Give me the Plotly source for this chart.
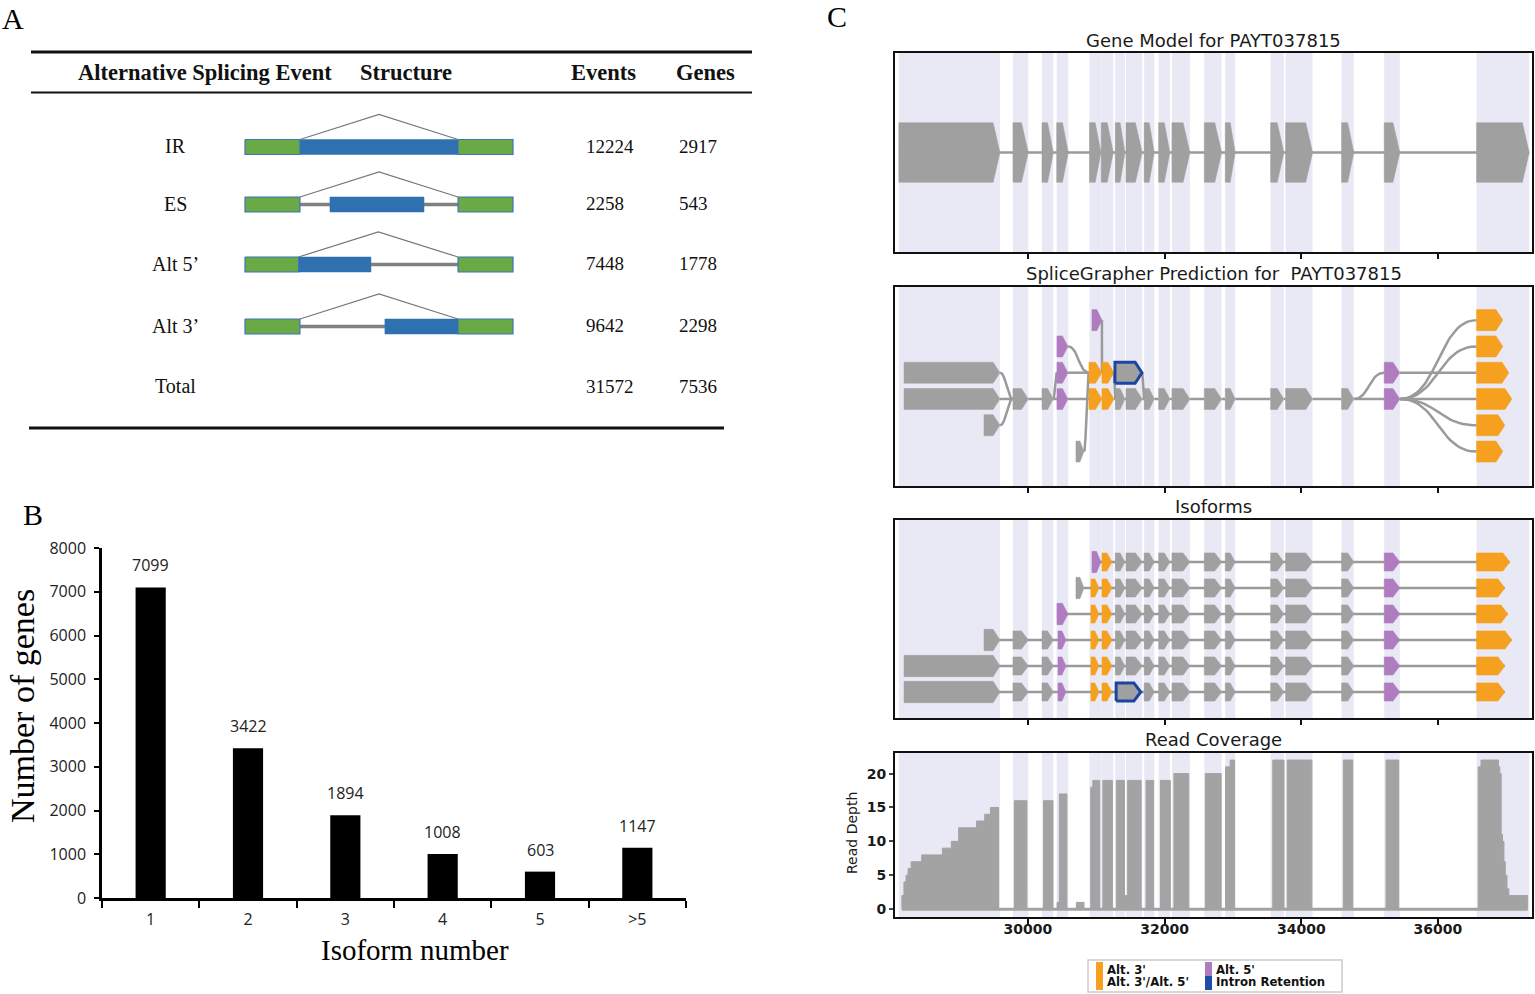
import plotly.graph_objects as go

W, H = 1535, 994


def fx(px):
    return px / W


def fy(py):
    return 1 - py / H


# ------------------------------------------------------------------ panel A data
as_headers = ["Alternative Splicing Event", "Structure", "Events", "Genes"]
as_events = ["IR", "ES", "Alt 5’", "Alt 3’", "Total"]
as_event_counts = [12224, 2258, 7448, 9642, 31572]
as_gene_counts = [2917, 543, 1778, 2298, 7536]
# schematic structures: (part, start fraction, end fraction)
ir_structure = [("exon", 0.0, 0.205), ("alt", 0.205, 0.795), ("exon", 0.795, 1.0)]
es_structure = [("exon", 0.0, 0.205), ("intron", 0.205, 0.317), ("alt", 0.317, 0.668),
                ("intron", 0.668, 0.795), ("exon", 0.795, 1.0)]
alt5_structure = [("exon", 0.0, 0.2), ("alt", 0.2, 0.47), ("intron", 0.47, 0.795), ("exon", 0.795, 1.0)]
alt3_structure = [("exon", 0.0, 0.205), ("intron", 0.205, 0.522), ("alt", 0.522, 0.795), ("exon", 0.795, 1.0)]
as_structures = [ir_structure, es_structure, alt5_structure, alt3_structure]

# ------------------------------------------------------------------ panel B data
isoform_cats = ["1", "2", "3", "4", "5", ">5"]
isoform_gene_counts = [7099, 3422, 1894, 1008, 603, 1147]

# ------------------------------------------------------------------ panel C data
gene_id = "PAYT037815"
gm_start = [28110, 29780, 30205, 30420, 30900, 31072, 31277, 31434, 31700, 31912, 32107,
            32580, 32887, 33551, 33770, 34589, 35213, 36565]
gm_end = [29590, 30005, 30370, 30590, 31068, 31248, 31419, 31672, 31848, 32077, 32370,
          32834, 33033, 33745, 34165, 34769, 35442, 37335]

sg_start = [28186, 28186, 29356, 29780, 30205, 30424, 30424, 30424, 30936, 30702, 30892, 31083,
            30892, 31083, 31273, 31277, 31434, 31700, 31912, 32107, 32580, 32887, 33551, 33770,
            34589, 35213, 35213, 36565, 36565, 36565, 36565, 36565, 36565]
sg_end = [29590, 29590, 29590, 30005, 30370, 30585, 30585, 30585, 31082, 30819, 31083, 31258,
          31083, 31258, 31668, 31419, 31672, 31848, 32077, 32370, 32834, 33033, 33745, 34165,
          34769, 35442, 35442, 36949, 36949, 37037, 37081, 36979, 36949]
sg_level = [1, 0, -1, 0, 0, 2, 1, 0, 3, -2, 1, 1, 0, 0, 1, 0, 0, 0, 0, 0, 0, 0, 0, 0, 0,
            1, 0, 3, 2, 1, 0, -1, -2]
sg_kind = ["n", "n", "n", "n", "n", "a5", "a5", "a5", "a5", "n", "a3", "a3", "a3", "a3", "ir",
           "n", "n", "n", "n", "n", "n", "n", "n", "n", "n", "a5", "a5",
           "a3", "a3", "a3", "a3", "a3", "a3"]
sg_edge_from = [0, 1, 2, 3, 4, 4, 5, 6, 7, 8, 9, 10, 11, 11, 12, 13, 14, 15, 16, 17, 18, 19,
                20, 21, 22, 23, 24, 24, 25, 26, 26, 26, 26, 26]
sg_edge_to = [3, 3, 3, 4, 7, 6, 10, 10, 12, 11, 10, 11, 14, 15, 13, 15, 17, 16, 17, 18, 19, 20,
              21, 22, 23, 24, 26, 25, 29, 27, 28, 30, 31, 32]

iso_exon78 = [(31277, 31419, "n"), (31434, 31672, "n")]
iso_middle = [(31700, 31848, "n"), (31912, 32077, "n"), (32107, 32370, "n"), (32580, 32834, "n"),
              (32887, 33033, "n"), (33551, 33745, "n"), (33770, 34165, "n"), (34589, 34769, "n"),
              (35213, 35442, "a5")]
iso1_head = [(30936, 31068, "a5"), (31083, 31229, "a3")] + iso_exon78
iso2_head = [(30702, 30819, "n"), (30921, 31039, "a3"), (31083, 31229, "a3")] + iso_exon78
iso3_head = [(30424, 30585, "a5"), (30921, 31039, "a3"), (31083, 31229, "a3")] + iso_exon78
iso4_head = [(29356, 29590, "n"), (29780, 30005, "n"), (30205, 30370, "n"), (30439, 30556, "a5"),
             (30921, 31039, "a3"), (31083, 31229, "a3")] + iso_exon78
iso5_head = [(28186, 29590, "n"), (29780, 30005, "n"), (30205, 30370, "n"), (30439, 30556, "a5"),
             (30921, 31039, "a3"), (31083, 31229, "a3")] + iso_exon78
iso6_head = [(28186, 29590, "n"), (29780, 30005, "n"), (30205, 30370, "n"), (30439, 30556, "a5"),
             (30921, 31039, "a3"), (31083, 31229, "a3"), (31290, 31650, "ir")]
iso_heads = [iso1_head, iso2_head, iso3_head, iso4_head, iso5_head, iso6_head]
iso_last_end = [37051, 36979, 37022, 37081, 36979, 36979]
iso_last_start = 36565

cov_start = [28155, 28185, 28215, 28245, 28290, 28445, 28748, 28879, 28985, 29248, 29367, 29451,
             29801, 30228, 30426, 30458, 30708, 30919, 30950, 31096, 31293, 31412, 31459, 31728,
             31938, 32136, 32595, 32892, 32958, 33583, 33794, 34616, 35240, 36589, 36629, 36885,
             36905, 36925, 36945, 36965, 36985, 37010, 37037]
cov_end = [28185, 28215, 28245, 28290, 28445, 28748, 28879, 28985, 29248, 29367, 29451, 29570,
           29984, 30366, 30458, 30570, 30820, 30950, 31050, 31235, 31412, 31459, 31656, 31839,
           32083, 32353, 32827, 32958, 33024, 33747, 34155, 34753, 35425, 36629, 36885, 36905,
           36925, 36945, 36965, 36985, 37010, 37037, 37312]
cov_depth = [2, 4, 5, 6, 7, 8, 9, 10, 12, 13, 14, 15, 16, 16, 1, 17, 1, 18, 19, 19, 19, 2, 19,
             19, 19, 20, 20, 21, 22, 22, 22, 22, 22, 21, 22, 21, 20, 11, 10, 7, 5, 3, 2]
c_ticks = [30000, 32000, 34000, 36000]
cov_ticks = [0, 5, 10, 15, 20]
legend_labels = ["Alt. 3'", "Alt. 3'/Alt. 5'", "Alt. 5'", "Intron Retention"]

# ------------------------------------------------------------------ styles
SERIF = "Liberation Serif"
SANS = "DejaVu Sans"
GREEN = "#6AAA46"
BLUE_A = "#2E70B0"
GRAY = "#A0A0A0"
LINE_GRAY = "#9A9A9A"
ORANGE = "#F5A01E"
PURPLE = "#B07CC0"
IR_BLUE = "#1A45A0"
BAND = "#E9E9F5"
KIND_COLOR = {"n": GRAY, "a3": ORANGE, "a5": PURPLE, "ir": GRAY}

fig = go.Figure()
annotations = []
shapes = []

# ================================================================== PANEL A
A_L, A_R = 245, 513
row_y = [147, 204.5, 264.5, 326.5, 387]
box_h = 7.5
arc_h = 25

intron_x, intron_y = [], []
alt_x, alt_y = [], []
exon_x, exon_y = [], []
arc_x, arc_y = [], []
for i, struct in enumerate(as_structures):
    yc = row_y[i]
    for part, a, b in struct:
        x0 = A_L + a * (A_R - A_L)
        x1 = A_L + b * (A_R - A_L)
        if part == "intron":
            intron_x += [x0, x1, None]
            intron_y += [yc, yc, None]
        else:
            px = [x0, x1, x1, x0, x0, None]
            py = [yc - box_h, yc - box_h, yc + box_h, yc + box_h, yc - box_h, None]
            if part == "alt":
                alt_x += px
                alt_y += py
            else:
                exon_x += px
                exon_y += py
    d = A_L + struct[0][2] * (A_R - A_L)
    acc = A_L + struct[-1][1] * (A_R - A_L)
    arc_x += [d, (d + acc) / 2, acc, None]
    arc_y += [yc - box_h, yc - box_h - arc_h, yc - box_h, None]

fig.add_trace(go.Scatter(x=intron_x, y=intron_y, mode="lines", line=dict(color="#808080", width=3.5),
                         xaxis="x", yaxis="y", hoverinfo="skip"))
fig.add_trace(go.Scatter(x=alt_x, y=alt_y, mode="lines", fill="toself", fillcolor=BLUE_A,
                         line=dict(color=BLUE_A, width=0.5), xaxis="x", yaxis="y", hoverinfo="skip"))
fig.add_trace(go.Scatter(x=exon_x, y=exon_y, mode="lines", fill="toself", fillcolor=GREEN,
                         line=dict(color="#3F73B8", width=1.2), xaxis="x", yaxis="y", hoverinfo="skip"))
fig.add_trace(go.Scatter(x=arc_x, y=arc_y, mode="lines", line=dict(color="#777777", width=1.2),
                         xaxis="x", yaxis="y", hoverinfo="skip"))

# table rules
shapes.append(dict(type="line", xref="x", yref="y", x0=31, x1=752, y0=52, y1=52,
                   line=dict(color="#111111", width=3)))
shapes.append(dict(type="line", xref="x", yref="y", x0=31, x1=752, y0=92.5, y1=92.5,
                   line=dict(color="#111111", width=2)))
shapes.append(dict(type="line", xref="x", yref="y", x0=29, x1=724, y0=428, y1=428,
                   line=dict(color="#111111", width=3)))

header_x = [205, 406, 603, 705]
for hx, htxt in zip(header_x, as_headers):
    annotations.append(dict(x=hx, y=72, xref="x", yref="y", text="<b>%s</b>" % htxt, showarrow=False,
                            font=dict(family=SERIF, size=22.5, color="#111111"), xanchor="center",
                            yanchor="middle"))
for i, ev in enumerate(as_events):
    yc = row_y[i] - 1
    annotations.append(dict(x=175, y=yc, xref="x", yref="y", text=ev, showarrow=False,
                            font=dict(family=SERIF, size=20, color="#111111"), xanchor="center",
                            yanchor="middle"))
    annotations.append(dict(x=584, y=yc, xref="x", yref="y", text=str(as_event_counts[i]), showarrow=False,
                            font=dict(family=SERIF, size=19, color="#111111"), xanchor="left",
                            yanchor="middle"))
    annotations.append(dict(x=677, y=yc, xref="x", yref="y", text=str(as_gene_counts[i]), showarrow=False,
                            font=dict(family=SERIF, size=19, color="#111111"), xanchor="left",
                            yanchor="middle"))

# ================================================================== PANEL B
fig.add_trace(go.Bar(x=isoform_cats, y=isoform_gene_counts, width=0.31, marker=dict(color="black", line=dict(width=0)),
                     xaxis="x2", yaxis="y2", hoverinfo="x+y"))
for i, v in enumerate(isoform_gene_counts):
    annotations.append(dict(x=i, y=v, xref="x2", yref="y2", text=str(v), showarrow=False, yanchor="bottom",
                            yshift=9, font=dict(family="Open Sans", size=16, color="#222222")))
annotations.append(dict(x=fx(22), y=fy(706), xref="paper", yref="paper", text="Number of genes", textangle=-90,
                        showarrow=False, font=dict(family=SERIF, size=34, color="black"),
                        xanchor="center", yanchor="middle"))
annotations.append(dict(x=fx(415), y=fy(950), xref="paper", yref="paper", text="Isoform number",
                        showarrow=False, font=dict(family=SERIF, size=29, color="black"),
                        xanchor="center", yanchor="middle"))

# ================================================================== PANEL C helpers


def pent(s, e, yc, h, tipmax=100):
    tip = min(tipmax, 0.5 * (e - s))
    return [s, e - tip, e, e - tip, s, s, None], [yc - h, yc - h, yc, yc + h, yc + h, yc - h, None]


def add_exons(starts, ends, levels, kinds, halfs, xa, ya):
    groups = {}
    for s, e, lv, k, hh in zip(starts, ends, levels, kinds, halfs):
        px, py = pent(s, e, lv, hh)
        gx, gy = groups.setdefault(k, ([], []))
        gx += px
        gy += py
    for k in ["n", "a5", "a3", "ir"]:
        if k not in groups:
            continue
        gx, gy = groups[k]
        if k == "ir":
            line = dict(color=IR_BLUE, width=3)
        else:
            line = dict(color=KIND_COLOR[k], width=0.5)
        fig.add_trace(go.Scatter(x=gx, y=gy, mode="lines", fill="toself", fillcolor=KIND_COLOR[k],
                                 line=line, xaxis=xa, yaxis=ya, hoverinfo="skip"))


def bezier(x0, y0, x1, y1, n=30):
    if y0 == y1:
        return [x0, x1, None], [y0, y1, None]
    cx = (x0 + x1) / 2.0
    xs, ys = [], []
    for k in range(n + 1):
        t = k / n
        a, b, c, d = (1 - t) ** 3, 3 * (1 - t) ** 2 * t, 3 * (1 - t) * t ** 2, t ** 3
        xs.append(a * x0 + b * cx + c * cx + d * x1)
        ys.append(a * y0 + b * y0 + c * y1 + d * y1)
    return xs + [None], ys + [None]


# bands
for ax in ["3", "4", "5", "6"]:
    for s, e in zip(gm_start, gm_end):
        shapes.append(dict(type="rect", xref="x" + ax, yref="y%s domain" % ax, x0=s, x1=e, y0=0, y1=1,
                           fillcolor=BAND, line=dict(width=0), layer="below"))

# ---- gene model
fig.add_trace(go.Scatter(x=[gm_start[0], gm_end[-1]], y=[0, 0], mode="lines",
                         line=dict(color=LINE_GRAY, width=2.5), xaxis="x3", yaxis="y3", hoverinfo="skip"))
add_exons(gm_start, gm_end, [0] * len(gm_start), ["n"] * len(gm_start), [0.3] * len(gm_start), "x3", "y3")

# ---- SpliceGrapher
ex, ey = [], []
for a, b in zip(sg_edge_from, sg_edge_to):
    px, py = bezier(sg_end[a], sg_level[a], sg_start[b], sg_level[b])
    ex += px
    ey += py
fig.add_trace(go.Scatter(x=ex, y=ey, mode="lines", line=dict(color=LINE_GRAY, width=2.5),
                         xaxis="x4", yaxis="y4", hoverinfo="skip"))
add_exons(sg_start, sg_end, sg_level, sg_kind, [0.4] * len(sg_start), "x4", "y4")

# ---- Isoforms
lx, ly = [], []
i_s, i_e, i_l, i_k, i_h = [], [], [], [], []
for idx, head in enumerate(iso_heads):
    lvl = 6 - idx
    exons = head + iso_middle + [(iso_last_start, iso_last_end[idx], "a3")]
    lx += [exons[0][0], exons[-1][1], None]
    ly += [lvl, lvl, None]
    for j, (s, e, k) in enumerate(exons):
        i_s.append(s)
        i_e.append(e)
        i_l.append(lvl)
        i_k.append(k)
        i_h.append(0.41 if j == 0 else 0.35)
fig.add_trace(go.Scatter(x=lx, y=ly, mode="lines", line=dict(color=LINE_GRAY, width=2.5),
                         xaxis="x5", yaxis="y5", hoverinfo="skip"))
add_exons(i_s, i_e, i_l, i_k, i_h, "x5", "y5")

# ---- coverage
cx, cy = [cov_start[0]], [0]
prev = cov_start[0]
for s, e, d in zip(cov_start, cov_end, cov_depth):
    if s > prev:
        cx += [prev, s]
        cy += [0, 0]
    cx += [s, e]
    cy += [d, d]
    prev = e
cx.append(prev)
cy.append(0)
fig.add_trace(go.Scatter(x=cx, y=cy, mode="lines", fill="tozeroy", fillcolor="#A3A3A3",
                         line=dict(color="#A3A3A3", width=1), xaxis="x6", yaxis="y6", hoverinfo="skip"))
fig.add_trace(go.Scatter(x=[cov_start[0], cov_end[-1]], y=[0, 0], mode="lines",
                         line=dict(color="#A3A3A3", width=3), xaxis="x6", yaxis="y6", hoverinfo="skip"))

# panel C titles
c_titles = ["Gene Model for %s" % gene_id, "SpliceGrapher Prediction for  %s" % gene_id, "Isoforms",
            "Read Coverage"]
for t, ty in zip(c_titles, [40, 273, 506, 739]):
    annotations.append(dict(x=fx(1213.5), y=fy(ty), xref="paper", yref="paper", text=t.replace("  ", " &nbsp;"),
                            showarrow=False, font=dict(family=SANS, size=18, color="#1a1a1a"),
                            xanchor="center", yanchor="middle"))
annotations.append(dict(x=fx(852), y=fy(833), xref="paper", yref="paper", text="Read Depth", textangle=-90,
                        showarrow=False, font=dict(family=SANS, size=14, color="#1a1a1a"),
                        xanchor="center", yanchor="middle"))

# legend (manual)
shapes.append(dict(type="rect", xref="paper", yref="paper", x0=fx(1088), x1=fx(1342), y0=fy(992), y1=fy(960),
                   fillcolor="white", line=dict(color="#CCCCCC", width=1.5)))
shapes.append(dict(type="rect", xref="paper", yref="paper", x0=fx(1096), x1=fx(1103), y0=fy(990), y1=fy(962),
                   fillcolor=ORANGE, line=dict(width=0)))
shapes.append(dict(type="rect", xref="paper", yref="paper", x0=fx(1205), x1=fx(1212), y0=fy(976), y1=fy(962),
                   fillcolor=PURPLE, line=dict(width=0)))
shapes.append(dict(type="rect", xref="paper", yref="paper", x0=fx(1205), x1=fx(1212), y0=fy(990), y1=fy(976),
                   fillcolor="#1F4EA8", line=dict(width=0)))
for (lxp, lyp), lab in zip([(1105, 970), (1105, 982), (1214, 970), (1214, 982)], legend_labels):
    annotations.append(dict(x=fx(lxp), y=fy(lyp), xref="paper", yref="paper", text=lab, showarrow=False,
                            xanchor="left", yanchor="middle",
                            font=dict(family=SANS, size=11.7, color="#111111", weight="bold")))

# panel letters
for letter, (px_, py_) in zip(["A", "B", "C"], [(13, 18), (33, 514), (837, 17)]):
    annotations.append(dict(x=fx(px_), y=fy(py_), xref="paper", yref="paper", text=letter, showarrow=False,
                            xanchor="center", yanchor="middle", font=dict(family=SERIF, size=30, color="black")))

# ------------------------------------------------------------------ axes
C_RANGE = [28054, 37376]


def c_xaxis(anchor, labels):
    return dict(domain=[fx(895), fx(1532)], anchor=anchor, range=C_RANGE, showgrid=False, zeroline=False,
                showline=True, mirror=True, linecolor="#111111", linewidth=2, ticks="outside", ticklen=5,
                tickwidth=1.5, tickcolor="#111111", tickvals=c_ticks, ticktext=[str(v) for v in c_ticks],
                showticklabels=labels, automargin=False, ticklabelstandoff=-7,
                tickfont=dict(family=SANS, size=14, color="#1a1a1a", weight="bold"))


def c_yaxis(anchor, top, bottom, rng, ticks=False):
    d = dict(domain=[fy(bottom), fy(top)], anchor=anchor, range=rng, showgrid=False, zeroline=False,
             showline=True, mirror=True, linecolor="#111111", linewidth=2, automargin=False)
    if ticks:
        d.update(ticks="outside", ticklen=4, tickwidth=1.5, tickvals=cov_ticks, showticklabels=True,
                 tickfont=dict(family=SANS, size=14, color="#1a1a1a", weight="bold"))
    else:
        d.update(showticklabels=False, ticks="")
    return d


fig.update_layout(
    width=W, height=H, margin=dict(l=0, r=0, t=0, b=0, pad=0, autoexpand=False), showlegend=False,
    plot_bgcolor="white", paper_bgcolor="white",
    xaxis=dict(domain=[0, fx(760)], range=[0, 760], visible=False, anchor="y", automargin=False),
    yaxis=dict(domain=[fy(440), 1], range=[440, 0], visible=False, anchor="x", automargin=False),
    xaxis2=dict(domain=[fx(102), fx(686)], anchor="y2", type="category", range=[-0.5, 5.5],
                showline=True, linecolor="black", linewidth=2.5, ticks="outside", tickson="boundaries",
                ticklen=7, tickwidth=2, tickcolor="black", showgrid=False, zeroline=False, automargin=False,
                ticklabelstandoff=5,
                tickfont=dict(family="Open Sans", size=16, color="#222222")),
    yaxis2=dict(domain=[fy(898), fy(548)], anchor="x2", range=[0, 8000], dtick=1000,
                showline=True, linecolor="black", linewidth=2.5, ticks="outside", ticklen=5, tickwidth=2,
                tickcolor="black", showgrid=False, zeroline=False, ticklabelstandoff=5, automargin=False,
                tickfont=dict(family="Open Sans", size=16, color="#222222")),
    xaxis3=c_xaxis("y3", False),
    yaxis3=c_yaxis("x3", 53, 252, [-1, 1]),
    xaxis4=c_xaxis("y4", False),
    yaxis4=c_yaxis("x4", 287, 486, [-3.31, 4.26]),
    xaxis5=c_xaxis("y5", False),
    yaxis5=c_yaxis("x5", 520, 718, [0, 7.615]),
    xaxis6=c_xaxis("y6", True),
    yaxis6=c_yaxis("x6", 753, 917, [-1.16, 23.04], ticks=True),
    annotations=annotations,
    shapes=shapes,
)

fig.write_html("out.html", config=dict(displayModeBar=False),
               post_script="document.body.style.margin='0px';document.body.style.overflow='hidden';")
